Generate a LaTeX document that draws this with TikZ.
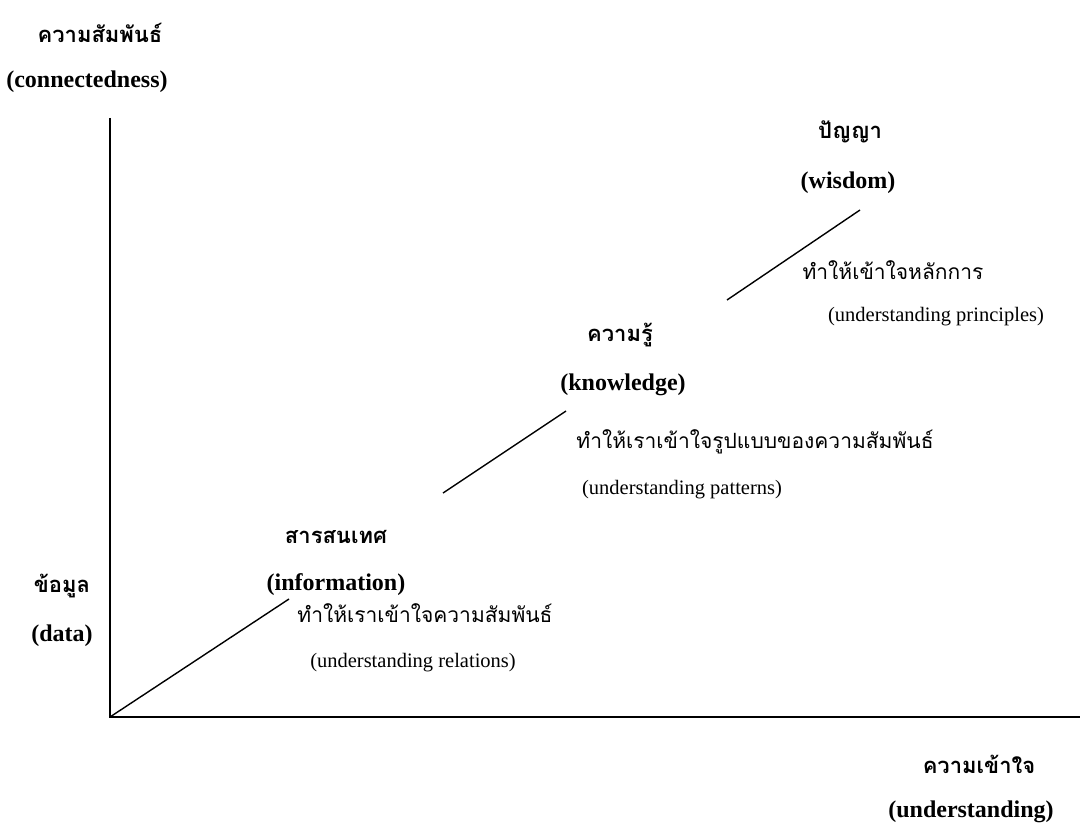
\documentclass[tikz,border=0pt]{standalone}
\usepackage{fontspec}
\setmainfont{Liberation Serif}
\newfontfamily\thaifont[Script=Thai]{Loma}
\usetikzlibrary{positioning}
\tikzset{
  thb/.style={font=\thaifont\bfseries\fontsize{22}{26}\selectfont, inner sep=0pt, anchor=center},
  enb/.style={font=\bfseries\fontsize{24}{28}\selectfont, inner sep=0pt, anchor=center},
  thr/.style={font=\thaifont\fontsize{21}{25}\selectfont, inner sep=0pt, anchor=center},
  enr/.style={font=\fontsize{20.5}{24}\selectfont, inner sep=0pt, anchor=center},
  axis/.style={line width=1.8pt, black},
  seg/.style={line width=1.4pt, black},
}
\begin{document}
\begin{tikzpicture}[x=1pt, y=-1pt]
  \useasboundingbox (0,0) rectangle (1083,826);
  % axes
  \coordinate (o) at (110,717);
  \coordinate (ytop) at (110,118);
  \coordinate (xend) at (1080,717);
  \draw[axis] (ytop) -- (o) -- (xend);
  % axis labels
  \node[thb] (conth) at (100,33) {ความสัมพันธ์};
  \node[enb] (conen) at (87,82) {(connectedness)};
  \node[thb] (undth) at (979,764) {ความเข้าใจ};
  \node[enb] (unden) at (971,812) {(understanding)};
  % levels
  \node[thb] (datth) at (62,586) {ข้อมูล};
  \node[enb] (daten) at (62,636) {(data)};
  \node[thb] (infth) at (336,537) {สารสนเทศ};
  \node[enb] (infen) at (336,585) {(information)};
  \node[thb] (knoth) at (620,335) {ความรู้};
  \node[enb] (knoen) at (623,385) {(knowledge)};
  \node[thb] (wisth) at (850,132) {ปัญญา};
  \node[enb] (wisen) at (848,183) {(wisdom)};
  % steps between levels
  \node[thr] (relth) at (425,613) {ทำให้เราเข้าใจความสัมพันธ์};
  \node[enr] (relen) at (413,663) {(understanding relations)};
  \node[thr] (patth) at (755,442) {ทำให้เราเข้าใจรูปแบบของความสัมพันธ์};
  \node[enr] (paten) at (682,490) {(understanding patterns)};
  \node[thr] (prith) at (893,270) {ทำให้เข้าใจหลักการ};
  \node[enr] (prien) at (936,317) {(understanding principles)};
  \coordinate (a1) at (289,599);
  \coordinate (b0) at (443,493);
  \coordinate (b1) at (566,411);
  \coordinate (c0) at (727,300);
  \coordinate (c1) at (860,210);
  \draw[seg] (o) -- (a1);
  \draw[seg] (b0) -- (b1);
  \draw[seg] (c0) -- (c1);
\end{tikzpicture}
\end{document}
